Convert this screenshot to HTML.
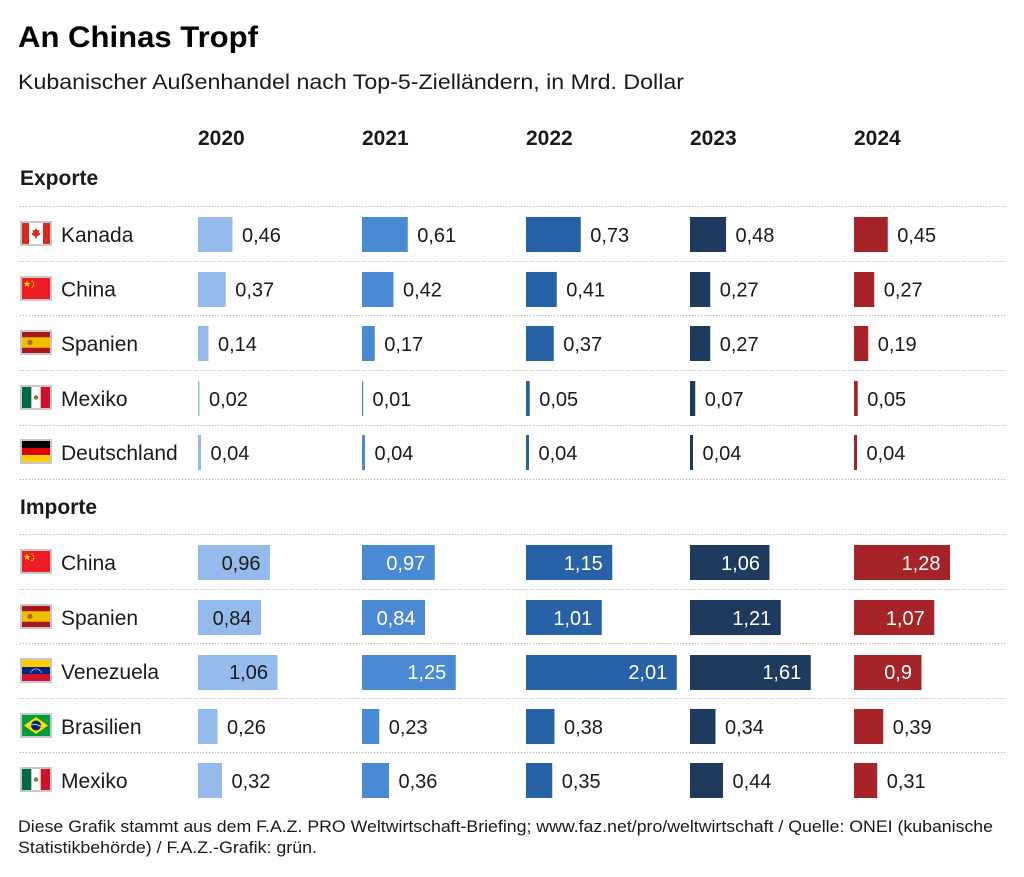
<!DOCTYPE html>
<html><head><meta charset="utf-8"><style>
html,body{margin:0;padding:0;background:#fff;}
svg{display:block;}
text{font-family:"Liberation Sans",Arial,sans-serif;fill:#1a1a1a;}
.n{font-size:20px;}
.c{font-size:21px;}
.b{font-weight:bold;font-size:21px;}
.w{fill:#fff;}
.l{stroke:#b4b4b4;stroke-width:1;stroke-dasharray:1.2 1.8;}
</style></head><body>
<svg width="1024" height="877" viewBox="0 0 1024 877" xmlns="http://www.w3.org/2000/svg">
<defs>
<g id="fCA"><rect width="32" height="25" fill="#c8c8c8"/><rect x="2" y="2" width="28" height="21" fill="#fff"/><rect x="2" y="2" width="7" height="21" fill="#d52b1e"/><rect x="23" y="2" width="7" height="21" fill="#d52b1e"/><path d="M16 7 L17.3 9.5 L19.5 8.8 L18.6 12.5 L20.6 11.8 L19.8 14 L17 15.2 L16.4 17.5 L15.6 17.5 L15 15.2 L12.2 14 L11.4 11.8 L13.4 12.5 L12.5 8.8 L14.7 9.5 Z" fill="#d52b1e"/></g>
<g id="fCN"><rect width="32" height="25" fill="#c8c8c8"/><rect x="2" y="2" width="28" height="21" fill="#ee1c25"/><polygon points="7,4.5 7.9,7 10.5,7 8.4,8.6 9.2,11 7,9.5 4.8,11 5.6,8.6 3.5,7 6.1,7" fill="#ffde00"/><circle cx="12" cy="5" r="0.8" fill="#ffde00"/><circle cx="13.5" cy="7" r="0.8" fill="#ffde00"/><circle cx="13.5" cy="9.5" r="0.8" fill="#ffde00"/><circle cx="12" cy="11.3" r="0.8" fill="#ffde00"/></g>
<g id="fES"><rect width="32" height="25" fill="#c8c8c8"/><rect x="2" y="2" width="28" height="21" fill="#aa151b"/><rect x="2" y="7.25" width="28" height="10.5" fill="#f1bf00"/><circle cx="10" cy="12.5" r="2.6" fill="#c0622c"/></g>
<g id="fMX"><rect width="32" height="25" fill="#c8c8c8"/><rect x="2" y="2" width="28" height="21" fill="#fff"/><rect x="2" y="2" width="9.33" height="21" fill="#006847"/><rect x="20.67" y="2" width="9.33" height="21" fill="#ce1126"/><circle cx="16" cy="12.5" r="2.2" fill="#8c6a3c"/></g>
<g id="fDE"><rect width="32" height="25" fill="#c8c8c8"/><rect x="2" y="2" width="28" height="7" fill="#000"/><rect x="2" y="9" width="28" height="7" fill="#dd0000"/><rect x="2" y="16" width="28" height="7" fill="#ffce00"/></g>
<g id="fVE"><rect width="32" height="25" fill="#c8c8c8"/><rect x="2" y="2" width="28" height="7" fill="#ffcc00"/><rect x="2" y="9" width="28" height="7" fill="#00247d"/><rect x="2" y="16" width="28" height="7" fill="#cf142b"/><g fill="#fff"><circle cx="11" cy="14" r="0.6"/><circle cx="12.3" cy="12.2" r="0.6"/><circle cx="14" cy="11.2" r="0.6"/><circle cx="16" cy="10.9" r="0.6"/><circle cx="18" cy="11.2" r="0.6"/><circle cx="19.7" cy="12.2" r="0.6"/><circle cx="21" cy="14" r="0.6"/></g></g>
<g id="fBR"><rect width="32" height="25" fill="#c8c8c8"/><rect x="2" y="2" width="28" height="21" fill="#009c3b"/><polygon points="16,4 28,12.5 16,21 4,12.5" fill="#ffdf00"/><circle cx="16" cy="12.5" r="5" fill="#002776"/><path d="M11.3 11.5 Q16 10.5 20.8 13.5" stroke="#fff" stroke-width="0.8" fill="none"/></g>
</defs>

<!-- Title -->
<text x="18" y="47" style="font-size:30px;font-weight:bold;fill:#000" textLength="240" lengthAdjust="spacingAndGlyphs">An Chinas Tropf</text>
<text x="18" y="89" style="font-size:21.5px" textLength="666" lengthAdjust="spacingAndGlyphs">Kubanischer Außenhandel nach Top-5-Zielländern, in Mrd. Dollar</text>

<!-- Years -->
<text class="b" x="198" y="145">2020</text>
<text class="b" x="362" y="145">2021</text>
<text class="b" x="526" y="145">2022</text>
<text class="b" x="690" y="145">2023</text>
<text class="b" x="854" y="145">2024</text>

<text class="b" x="20" y="185">Exporte</text>
<text class="b" x="20" y="514">Importe</text>

<!-- Dotted lines -->
<g class="l">
<line x1="20" y1="206.5" x2="1005" y2="206.5"/>
<line x1="20" y1="261.5" x2="1005" y2="261.5"/>
<line x1="20" y1="315.5" x2="1005" y2="315.5"/>
<line x1="20" y1="370.5" x2="1005" y2="370.5"/>
<line x1="20" y1="425.5" x2="1005" y2="425.5"/>
<line x1="20" y1="479.5" x2="1005" y2="479.5"/>
<line x1="20" y1="534.5" x2="1005" y2="534.5"/>
<line x1="20" y1="589.5" x2="1005" y2="589.5"/>
<line x1="20" y1="643.5" x2="1005" y2="643.5"/>
<line x1="20" y1="698.5" x2="1005" y2="698.5"/>
<line x1="20" y1="752.5" x2="1005" y2="752.5"/>
</g>

<!-- Flags & country names -->
<use href="#fCA" x="20" y="221"/><text class="c" x="61" y="242">Kanada</text>
<use href="#fCN" x="20" y="276"/><text class="c" x="61" y="296.5">China</text>
<use href="#fES" x="20" y="330"/><text class="c" x="61" y="351">Spanien</text>
<use href="#fMX" x="20" y="385"/><text class="c" x="61" y="406">Mexiko</text>
<use href="#fDE" x="20" y="439"/><text class="c" x="61" y="460">Deutschland</text>

<use href="#fCN" x="20" y="549"/><text class="c" x="61" y="570">China</text>
<use href="#fES" x="20" y="604"/><text class="c" x="61" y="625">Spanien</text>
<use href="#fVE" x="20" y="658"/><text class="c" x="61" y="679">Venezuela</text>
<use href="#fBR" x="20" y="713"/><text class="c" x="61" y="734">Brasilien</text>
<use href="#fMX" x="20" y="767"/><text class="c" x="61" y="788">Mexiko</text>

<!-- Export bars -->
<g>
<!-- Kanada y=217 -->
<rect x="198" y="217" width="34.5" height="35" fill="#94bbeb"/>
<rect x="362" y="217" width="45.75" height="35" fill="#4a89d3"/>
<rect x="526" y="217" width="54.75" height="35" fill="#2862a6"/>
<rect x="690" y="217" width="36" height="35" fill="#1e3a5f"/>
<rect x="854" y="217" width="33.75" height="35" fill="#a62327"/>
<!-- China y=272 -->
<rect x="198" y="272" width="27.75" height="35" fill="#94bbeb"/>
<rect x="362" y="272" width="31.5" height="35" fill="#4a89d3"/>
<rect x="526" y="272" width="30.75" height="35" fill="#2862a6"/>
<rect x="690" y="272" width="20.25" height="35" fill="#1e3a5f"/>
<rect x="854" y="272" width="20.25" height="35" fill="#a62327"/>
<!-- Spanien y=326 -->
<rect x="198" y="326" width="10.5" height="35" fill="#94bbeb"/>
<rect x="362" y="326" width="12.75" height="35" fill="#4a89d3"/>
<rect x="526" y="326" width="27.75" height="35" fill="#2862a6"/>
<rect x="690" y="326" width="20.25" height="35" fill="#1e3a5f"/>
<rect x="854" y="326" width="14.25" height="35" fill="#a62327"/>
<!-- Mexiko y=381 -->
<rect x="198" y="381" width="1.5" height="35" fill="#94bbeb"/>
<rect x="362" y="381" width="1.2" height="35" fill="#4a89d3"/>
<rect x="526" y="381" width="3.75" height="35" fill="#2862a6"/>
<rect x="690" y="381" width="5.25" height="35" fill="#1e3a5f"/>
<rect x="854" y="381" width="3.75" height="35" fill="#a62327"/>
<!-- Deutschland y=435 -->
<rect x="198" y="435" width="3" height="35" fill="#94bbeb"/>
<rect x="362" y="435" width="3" height="35" fill="#4a89d3"/>
<rect x="526" y="435" width="3" height="35" fill="#2862a6"/>
<rect x="690" y="435" width="3" height="35" fill="#1e3a5f"/>
<rect x="854" y="435" width="3" height="35" fill="#a62327"/>
</g>

<!-- Export labels -->
<g class="n">
<text class="n" x="242" y="242">0,46</text>
<text class="n" x="417.25" y="242">0,61</text>
<text class="n" x="590.25" y="242">0,73</text>
<text class="n" x="735.5" y="242">0,48</text>
<text class="n" x="897.25" y="242">0,45</text>

<text class="n" x="235.25" y="296.5">0,37</text>
<text class="n" x="403" y="296.5">0,42</text>
<text class="n" x="566.25" y="296.5">0,41</text>
<text class="n" x="719.75" y="296.5">0,27</text>
<text class="n" x="883.75" y="296.5">0,27</text>

<text class="n" x="218" y="351">0,14</text>
<text class="n" x="384.25" y="351">0,17</text>
<text class="n" x="563.25" y="351">0,37</text>
<text class="n" x="719.75" y="351">0,27</text>
<text class="n" x="877.75" y="351">0,19</text>

<text class="n" x="209" y="406">0,02</text>
<text class="n" x="372.5" y="406">0,01</text>
<text class="n" x="539.25" y="406">0,05</text>
<text class="n" x="704.75" y="406">0,07</text>
<text class="n" x="867.25" y="406">0,05</text>

<text class="n" x="210.5" y="460">0,04</text>
<text class="n" x="374.5" y="460">0,04</text>
<text class="n" x="538.5" y="460">0,04</text>
<text class="n" x="702.5" y="460">0,04</text>
<text class="n" x="866.5" y="460">0,04</text>
</g>

<!-- Import bars -->
<g>
<!-- China y=545 -->
<rect x="198" y="545" width="72" height="35" fill="#94bbeb"/>
<rect x="362" y="545" width="72.75" height="35" fill="#4a89d3"/>
<rect x="526" y="545" width="86.25" height="35" fill="#2862a6"/>
<rect x="690" y="545" width="79.5" height="35" fill="#1e3a5f"/>
<rect x="854" y="545" width="96" height="35" fill="#a62327"/>
<!-- Spanien y=600 -->
<rect x="198" y="600" width="63" height="35" fill="#94bbeb"/>
<rect x="362" y="600" width="63" height="35" fill="#4a89d3"/>
<rect x="526" y="600" width="75.75" height="35" fill="#2862a6"/>
<rect x="690" y="600" width="90.75" height="35" fill="#1e3a5f"/>
<rect x="854" y="600" width="80.25" height="35" fill="#a62327"/>
<!-- Venezuela y=655 -->
<rect x="198" y="655" width="79.5" height="35" fill="#94bbeb"/>
<rect x="362" y="655" width="93.75" height="35" fill="#4a89d3"/>
<rect x="526" y="655" width="150.75" height="35" fill="#2862a6"/>
<rect x="690" y="655" width="120.75" height="35" fill="#1e3a5f"/>
<rect x="854" y="655" width="67.5" height="35" fill="#a62327"/>
<!-- Brasilien y=709 -->
<rect x="198" y="709" width="19.5" height="35" fill="#94bbeb"/>
<rect x="362" y="709" width="17.25" height="35" fill="#4a89d3"/>
<rect x="526" y="709" width="28.5" height="35" fill="#2862a6"/>
<rect x="690" y="709" width="25.5" height="35" fill="#1e3a5f"/>
<rect x="854" y="709" width="29.25" height="35" fill="#a62327"/>
<!-- Mexiko y=763 -->
<rect x="198" y="763" width="24" height="35" fill="#94bbeb"/>
<rect x="362" y="763" width="27" height="35" fill="#4a89d3"/>
<rect x="526" y="763" width="26.25" height="35" fill="#2862a6"/>
<rect x="690" y="763" width="33" height="35" fill="#1e3a5f"/>
<rect x="854" y="763" width="23.25" height="35" fill="#a62327"/>
</g>

<!-- Import labels inside -->
<g text-anchor="end">
<text class="n" x="260.5" y="570">0,96</text>
<text class="n w" x="425.25" y="570">0,97</text>
<text class="n w" x="602.75" y="570">1,15</text>
<text class="n w" x="760" y="570">1,06</text>
<text class="n w" x="940.5" y="570">1,28</text>

<text class="n" x="251.5" y="625">0,84</text>
<text class="n w" x="415.5" y="625">0,84</text>
<text class="n w" x="592.25" y="625">1,01</text>
<text class="n w" x="771.25" y="625">1,21</text>
<text class="n w" x="924.75" y="625">1,07</text>

<text class="n" x="268" y="679">1,06</text>
<text class="n w" x="446.25" y="679">1,25</text>
<text class="n w" x="667.25" y="679">2,01</text>
<text class="n w" x="801.25" y="679">1,61</text>
<text class="n w" x="912" y="679">0,9</text>
</g>

<!-- Import labels outside -->
<text class="n" x="227" y="734">0,26</text>
<text class="n" x="388.75" y="734">0,23</text>
<text class="n" x="564" y="734">0,38</text>
<text class="n" x="725" y="734">0,34</text>
<text class="n" x="892.75" y="734">0,39</text>

<text class="n" x="231.5" y="788">0,32</text>
<text class="n" x="398.5" y="788">0,36</text>
<text class="n" x="561.75" y="788">0,35</text>
<text class="n" x="732.5" y="788">0,44</text>
<text class="n" x="886.75" y="788">0,31</text>

<!-- Footer -->
<text x="18" y="832" style="font-size:16.5px" textLength="975" lengthAdjust="spacingAndGlyphs">Diese Grafik stammt aus dem F.A.Z. PRO Weltwirtschaft-Briefing; www.faz.net/pro/weltwirtschaft / Quelle: ONEI (kubanische</text>
<text x="18" y="853" style="font-size:16.5px" textLength="299" lengthAdjust="spacingAndGlyphs">Statistikbehörde) / F.A.Z.-Grafik: grün.</text>
</svg>
</body></html>
